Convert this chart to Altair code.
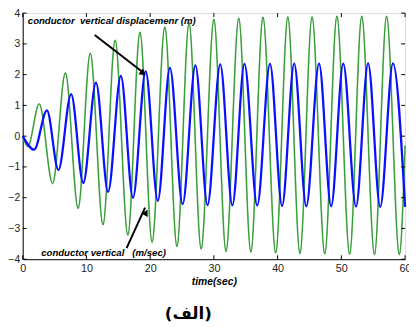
import altair as alt
import pandas as pd

# green: conductor vertical velocity (m/sec) - extrema
vel_t = [0, 0.8, 2.6, 4.7, 6.7, 8.7, 10.6, 12.6, 14.5, 16.5, 18.4, 20.3, 22.3, 24.2,
         26.1, 28.0, 30.0, 31.9, 33.9, 35.8, 37.7, 39.7, 41.6, 43.5, 45.4, 47.4,
         49.3, 51.3, 53.2, 55.2, 57.1, 59.1, 60.0]
vel_v = [0, -0.33, 1.05, -1.54, 2.06, -2.35, 2.7, -2.88, 3.12, -3.22, 3.38, -3.45,
         3.55, -3.59, 3.68, -3.67, 3.8, -3.75, 3.84, -3.77, 3.87, -3.8, 3.88, -3.82,
         3.88, -3.83, 3.9, -3.84, 3.9, -3.85, 3.9, -3.85, -0.3]

# blue: conductor vertical displacement (m)
disp_t = [0, 1.8, 3.8, 5.6, 7.6, 9.5, 11.5, 13.4, 15.4, 17.3, 19.3, 21.2, 23.1, 25.1,
          27.1, 29.0, 31.0, 32.9, 34.8, 36.8, 38.8, 40.7, 42.6, 44.5, 46.5, 48.4,
          50.3, 52.3, 54.2, 56.1, 58.1, 60.0]
disp_v = [0, -0.44, 0.84, -1.1, 1.37, -1.52, 1.74, -1.81, 1.96, -2.0, 2.11, -2.1,
          2.22, -2.21, 2.3, -2.24, 2.33, -2.25, 2.35, -2.26, 2.35, -2.27, 2.36, -2.28,
          2.36, -2.28, 2.36, -2.29, 2.37, -2.3, 2.37, -2.3]

x_ticks = [0, 10, 20, 30, 40, 50, 60]
y_ticks = [-4, -3, -2, -1, 0, 1, 2, 3, 4]

W, H = 390, 251
xs = alt.Scale(domain=[0, 60], nice=False, zero=False)
ys = alt.Scale(domain=[-4, 4], nice=False, zero=False)

vel = pd.DataFrame({"t": vel_t, "v": vel_v})
disp = pd.DataFrame({"t": disp_t, "v": disp_v})

xenc = alt.X("t:Q", scale=xs, axis=alt.Axis(values=x_ticks, tickSize=0, labelPadding=4,
             labelFont="Liberation Sans", labelFontSize=11, labelColor="#222",
             labelOverlap=False, labelFlush=False, labelBound=False,
             domainColor="black", grid=False, title="time(sec)",
             titleFont="Liberation Sans", titleFontSize=10.5, titleFontStyle="italic",
             titleFontWeight="bold", titlePadding=3, titleColor="black"))
yenc = alt.Y("v:Q", scale=ys, axis=alt.Axis(values=y_ticks, tickSize=0, labelPadding=3,
             labelFont="Liberation Sans", labelFontSize=10.5, labelColor="#222",
             labelOverlap=False, labelFlush=False, labelBound=False,
             domainColor="black", grid=False, title=None))

green_light = alt.Chart(vel).mark_line(color="#86c886", strokeWidth=1.8, interpolate="monotone").encode(x=xenc, y=yenc)
green_dark = alt.Chart(vel).mark_line(color="#178a17", strokeWidth=0.8, interpolate="monotone").encode(x=xenc, y=yenc)
blue = alt.Chart(disp).mark_line(color="#0a10ff", strokeWidth=2.3, interpolate="monotone").encode(x=xenc, y=yenc)

# inward ticks
xt = pd.DataFrame({"t": x_ticks})
yt = pd.DataFrame({"v": y_ticks})
tick_bot = alt.Chart(xt).mark_rule(color="black", strokeWidth=1).encode(x=xenc, y=alt.value(H), y2=alt.value(H - 4))
tick_top = alt.Chart(xt).mark_rule(color="black", strokeWidth=1).encode(x=xenc, y=alt.value(0), y2=alt.value(4))
tick_left = alt.Chart(yt).mark_rule(color="black", strokeWidth=1).encode(y=yenc, x=alt.value(0), x2=alt.value(4))
tick_right = alt.Chart(yt).mark_rule(color="black", strokeWidth=1).encode(y=yenc, x=alt.value(W), x2=alt.value(W - 4))

# annotations
NB = "\u00a0"
ann = pd.DataFrame({
    "t": [0.8, 2.9],
    "v": [3.75, -3.8],
    "label": ["conductor" + NB + NB + "vertical displacemenr (m)",
              "conductor vertical" + NB + NB + NB + "(m/sec)"],
})
ann_text = alt.Chart(ann).mark_text(align="left", baseline="middle", font="Liberation Sans",
                                    fontSize=9.8, fontStyle="italic", fontWeight="bold",
                                    color="black").encode(x=xenc, y=yenc, text="label:N")

arrows = pd.DataFrame({"t": [11.3, 16.3], "v": [3.29, -3.64], "t2": [18.7, 19.2], "v2": [2.1, -2.32]})
arrow_lines = alt.Chart(arrows).mark_rule(color="black", strokeWidth=2).encode(
    x=xenc, y=yenc, x2="t2:Q", y2="v2:Q")
heads = pd.DataFrame({"t": [18.9, 19.35], "v": [2.04, -2.48], "ang": [128, 29]})
arrow_heads = alt.Chart(heads).mark_point(shape="triangle-up", filled=True, color="black",
                                          size=55, opacity=1).encode(
    x=xenc, y=yenc, angle=alt.Angle("ang:Q", scale=None))

caption = alt.Chart(pd.DataFrame({"c": ["(الف)"]})).mark_text(
    font="DejaVu Sans", fontSize=17, fontWeight="bold", color="black", align="center",
    baseline="middle").encode(x=alt.value(169), y=alt.value(307), text="c:N")

chart = alt.layer(green_light, green_dark, blue, tick_bot, tick_top, tick_left, tick_right,
                  ann_text, arrow_lines, arrow_heads, caption).properties(
    width=W, height=H,
    padding={"left": 15, "top": 2, "right": 4, "bottom": 70},
    autosize=alt.AutoSizeParams(type="none"),
).configure_view(stroke="black", strokeWidth=1).configure(background="white")

chart.save("out.html", embed_options={"renderer": "svg", "actions": False})
